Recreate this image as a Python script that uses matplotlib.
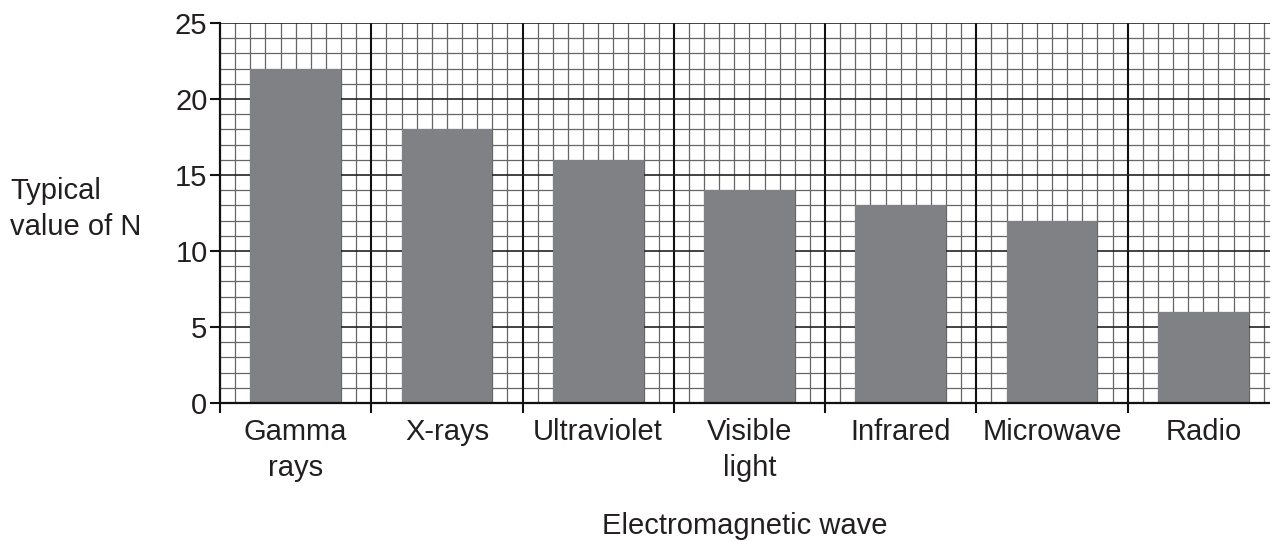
import matplotlib
matplotlib.use("Agg")
import matplotlib.pyplot as plt
import numpy as np

categories = ["Gamma\nrays", "X-rays", "Ultraviolet", "Visible\nlight", "Infrared", "Microwave", "Radio"]
values = [22, 18, 16, 14, 13, 12, 6]
y_ticks = [0, 5, 10, 15, 20, 25]

plt.rcParams['font.family'] = ['Liberation Sans', 'DejaVu Sans']
text_color = "#231f20"
fs = 21

fig = plt.figure(figsize=(12.7, 5.41), dpi=100)
ax = fig.add_axes([220/1270, 138/541, 1058.9/1270, 380/541])

n = len(categories)
ax.set_xlim(0, n)
ax.set_ylim(0, 25)

# grid
for k in range(1, n * 10 + 1):
    x = k / 10
    if k % 10 == 0:
        ax.axvline(x, color="#111111", lw=1.5, zorder=1)
    else:
        ax.axvline(x, color="#666666", lw=0.9, zorder=0.5)
for k in range(1, 26):
    if k % 5 == 0:
        ax.axhline(k, color="#222222", lw=1.2, zorder=1)
    else:
        ax.axhline(k, color="#666666", lw=0.9, zorder=0.5)

centers = np.arange(n) + 0.5
ax.bar(centers, values, width=0.6, color="#808184", zorder=2)

ax.spines['top'].set_visible(False)
ax.spines['right'].set_visible(False)
for s in ['left', 'bottom']:
    ax.spines[s].set_linewidth(1.6)
    ax.spines[s].set_color("#111111")
    ax.spines[s].set_zorder(3)

ax.set_yticks(y_ticks)
ax.set_yticklabels([str(v) for v in y_ticks])
ax.set_xticks(np.arange(0, n + 1))
ax.set_xticklabels([""] * (n + 1))
ax.set_xticks(centers, minor=True)
ax.set_xticklabels(categories, minor=True, linespacing=1.36)
ax.tick_params(axis='x', which='major', length=7, width=1.5, color="#111111", direction='out')
ax.tick_params(axis='x', which='minor', length=0, pad=11, labelsize=fs, labelcolor=text_color)
ax.tick_params(axis='y', length=7, width=1.5, color="#111111", pad=2, labelsize=fs, labelcolor=text_color)

fig.text(10/1270, (541 - 209)/541, "Typical\nvalue of N", ha='left', va='center', fontsize=fs,
         color=text_color, linespacing=1.33)
fig.text(745/1270, 1/541, "Electromagnetic wave", ha='center', va='bottom', fontsize=fs,
         color=text_color)

fig.savefig("out.png", dpi=100)
